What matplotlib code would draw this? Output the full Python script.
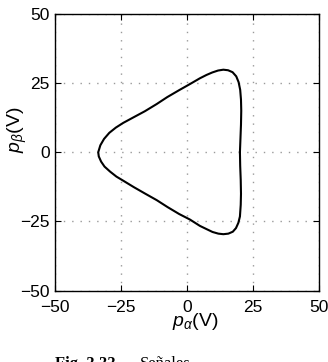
import matplotlib
matplotlib.use("Agg")
import matplotlib.pyplot as plt

# Curve points (counter-clockwise, starting at right side)
px = [20.1, 20.3, 20.5, 20.6, 20.5, 20.2, 19.6, 18.7, 17.3, 15.6, 13.8, 11.8, 9.6, 7.4, 4.9,
      1.1, -3.0, -7.5, -11.5, -16.0, -20.5, -24.2, -27.0, -29.5, -31.5, -32.9, -33.7,
      -33.5, -32.6, -31.3, -29.2, -26.8, -24.0, -20.2, -15.8, -11.5, -7.4, -3.0, 1.1,
      4.9, 7.5, 9.7, 11.9, 13.8, 15.7, 17.4, 18.6, 19.5, 20.1, 20.4, 20.5, 20.4, 20.2, 20.1]
py = [0.0, 5.0, 10.0, 15.0, 19.0, 22.5, 25.3, 27.4, 28.9, 29.6, 29.8, 29.5, 28.8, 27.9, 26.7,
      24.6, 22.4, 19.9, 17.4, 14.8, 12.5, 10.6, 8.9, 7.0, 4.8, 2.5, 0.0,
      -1.5, -3.4, -5.2, -7.0, -8.8, -10.4, -12.6, -15.0, -17.3, -19.8, -22.3, -24.3,
      -26.6, -27.8, -28.8, -29.4, -29.6, -29.4, -28.7, -27.4, -25.5, -23.2, -19.0, -15.0,
      -10.0, -5.0, 0.0]

ticks = [-50, -25, 0, 25, 50]
tick_labels = ["\u221250", "\u221225", "0", "25", "50"]

plt.rcParams['font.family'] = ['Liberation Sans', 'DejaVu Sans']
plt.rcParams['mathtext.fontset'] = 'custom'
plt.rcParams['mathtext.rm'] = 'Liberation Sans'
plt.rcParams['mathtext.it'] = 'Liberation Sans:italic'

fig = plt.figure(figsize=(3.28, 3.62), dpi=100)
ax = fig.add_axes([0.1686, 0.197, 0.803, 0.765])

ax.plot(px, py, color='black', linewidth=1.5, solid_joinstyle='round')

ax.set_xlim(-50, 50)
ax.set_ylim(-50, 50)
ax.set_xticks(ticks)
ax.set_yticks(ticks)
ax.set_xticklabels(tick_labels, fontsize=12.5)
ax.set_yticklabels(tick_labels, fontsize=12.5)
ax.tick_params(direction='in', length=4, top=True, right=True)
ax.tick_params(axis='x', pad=7)
ax.tick_params(axis='y', pad=4)
ax.grid(True, color='#9a9a9a', linestyle=(0, (1, 5)), linewidth=1)
for s in ax.spines.values():
    s.set_linewidth(1.0)

ax.set_xlabel(r'$p_{\alpha}$(V)', fontsize=14)
ax.set_ylabel(r'$p_{\beta}$(V)', fontsize=14)
ax.xaxis.set_label_coords(0.53, -0.072)
ax.yaxis.set_label_coords(-0.098, 0.58)

cap_y = -0.0065
fig.text(55 / 328, cap_y, 'Fig. 3.33', fontsize=12, fontweight='bold',
         family=['Liberation Serif', 'DejaVu Serif'], ha='left', va='center')
fig.text(140 / 328, cap_y, 'Señales', fontsize=12,
         family=['Liberation Serif', 'DejaVu Serif'], ha='left', va='center')

fig.savefig('out.png', dpi=100)
